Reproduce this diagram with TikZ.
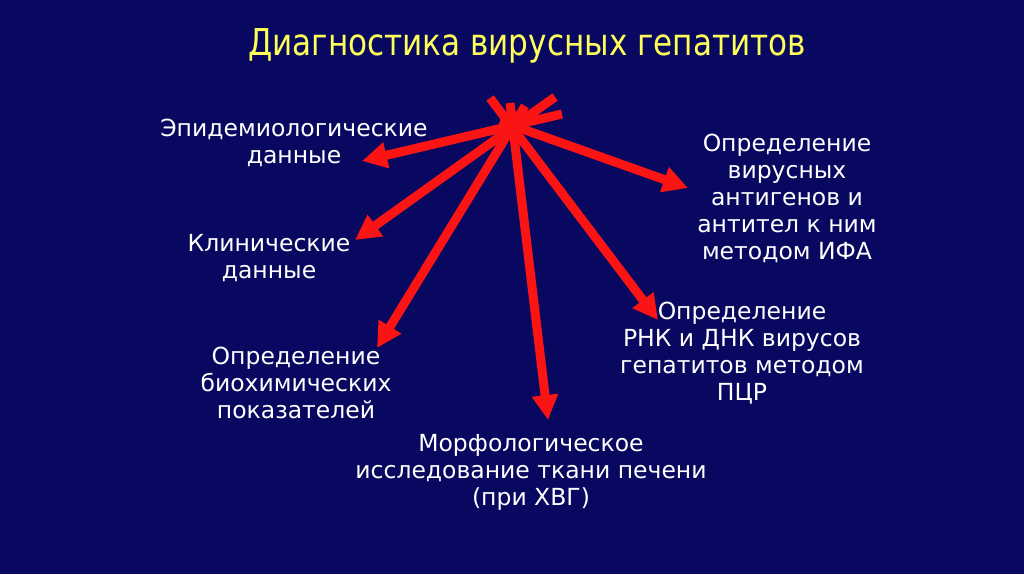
\documentclass[tikz,border=0pt]{standalone}
\usepackage{fontspec}
\setmainfont{DejaVu Sans}
\usetikzlibrary{arrows.meta}
\definecolor{bg}{RGB}{8,8,96}
\definecolor{arr}{RGB}{250,20,20}
\definecolor{ttl}{RGB}{255,255,90}
\begin{document}
\begin{tikzpicture}[x=1pt,y=-1pt,
  lbl/.style={text=white,font=\fontsize{23.5}{27}\selectfont,align=center,inner sep=0pt},
  ttlf/.style={font=\fontsize{37}{42}\selectfont,xscale=0.84,transform shape},
  ray/.style={draw=arr,line width=9pt,-{Triangle[length=25pt,width=25pt]}}]
\fill[bg] (0,0) rectangle (1024,574);
\useasboundingbox (0,0) rectangle (1024,574);
% title
\node (title)[ttlf,text=ttl] at (527,46) {Диагностика вирусных гепатитов};
% labels
\node (epi)[lbl] at (294,143) {Эпидемиологические\\данные};
\node (cli)[lbl] at (269,258) {Клинические\\данные};
\node (bio)[lbl] at (296,383) {Определение\\биохимических\\показателей};
\node (mor)[lbl] at (531,472) {Морфологическое\\исследование ткани печени\\(при ХВГ)};
\node (pcr)[lbl] at (742,353) {Определение\\РНК и ДНК вирусов\\гепатитов методом\\ПЦР};
\node (ifa)[lbl] at (787,198) {Определение\\вирусных\\антигенов и\\антител к ним\\методом ИФА};
% tip and tail coordinates
\coordinate (tEpi) at (362,161);
\coordinate (tCli) at (355,240);
\coordinate (tBio) at (377,348);
\coordinate (tMor) at (548,420);
\coordinate (tPcr) at (658,320);
\coordinate (tIfa) at (688,188);
\coordinate (sEpi) at (562,114);
\coordinate (sCli) at (555,97);
\coordinate (sBio) at (525,106);
\coordinate (sMor) at (510,103);
\coordinate (sPcr) at (490,98);
\coordinate (sIfa) at (500,121);
\draw[ray] (sEpi) -- (tEpi);
\draw[ray] (sCli) -- (tCli);
\draw[ray] (sBio) -- (tBio);
\draw[ray] (sMor) -- (tMor);
\draw[ray] (sPcr) -- (tPcr);
\draw[ray] (sIfa) -- (tIfa);
\end{tikzpicture}
\end{document}
